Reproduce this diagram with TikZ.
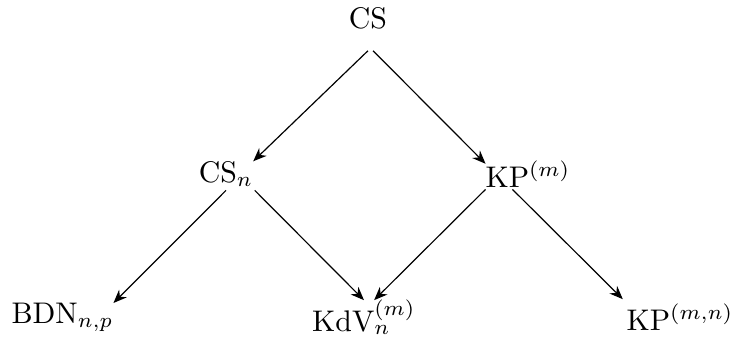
\documentclass[tikz,border=0pt]{standalone}
\usepackage{amsmath}
\usetikzlibrary{arrows.meta}

\begin{document}
\begin{tikzpicture}[
  eq/.style={inner sep=0pt, outer sep=0pt, font=\normalsize},
  arrow/.style={-{Stealth[length=4.5pt,width=3.6pt]}, thin}
]
\useasboundingbox (0,0) rectangle (8.6,3.97);

% Top
\node[eq] (CS) at (4.335, 3.76) {CS};

% Middle row
\node[eq] (CSn) at (2.663, 1.92) {CS$_n$};
\node[eq] (KPm) at (6.22, 1.92) {KP$^{(m)}$};

% Bottom row
\node[eq] (BDN) at (0.736, 0.23) {BDN$_{n,p}$};
\node[eq] (KdV) at (4.288, 0.23) {KdV$_n^{(m)}$};
\node[eq] (KPmn) at (8.011, 0.23) {KP$^{(m,n)}$};

% Reductions (all at 45 degrees)
\draw[arrow] ([yshift=-7.4pt]CS.south) -- (CSn.north east);
\draw[arrow] ([shift={(1.7pt,-7.4pt)}]CS.south) -- ([yshift=-1pt]KPm.north west);
\draw[arrow] ([yshift=-1.2pt]CSn.south) -- (BDN.north east);
\draw[arrow] ([shift={(0.5pt,-1.2pt)}]CSn.south east) -- (KdV.north);
\draw[arrow] ([yshift=-0.7pt]KPm.south west) -- ([xshift=3.4pt]KdV.north);
\draw[arrow] ([shift={(9pt,-0.7pt)}]KPm.south west) -- ([shift={(-1.3pt,1.7pt)}]KPmn.north west);

\end{tikzpicture}
\end{document}
